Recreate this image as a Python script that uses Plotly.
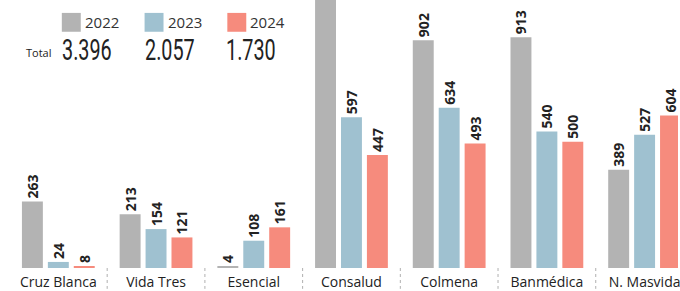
import plotly.graph_objects as go

categories = ["Cruz Blanca", "Vida Tres", "Esencial", "Consalud", "Colmena", "Banmédica", "N. Masvida"]
years = ["2022", "2023", "2024"]
v2022 = [263, 213, 4, 1150, 902, 913, 389]
v2023 = [24, 154, 108, 597, 634, 540, 527]
v2024 = [8, 121, 161, 447, 493, 500, 604]
totals = ["3.396", "2.057", "1.730"]
colors = ["#b3b3b3", "#9fc1d0", "#f68b7d"]

W, H = 680, 291
PLOT_H = 270
step = 98.0
c0 = 58.5
xr = [(0 - c0) / step, (W - c0) / step]
bw = 21 / step
offs = [-26 / step, 0, 26 / step]

fig = go.Figure()
idx = list(range(len(categories)))
for yr, vals, col, off in zip(years, [v2022, v2023, v2024], colors, offs):
    fig.add_trace(go.Bar(
        x=idx, y=vals, name=yr, marker_color=col, marker_line_width=0,
        width=bw, offset=off - bw / 2,
        text=[str(v) for v in vals], textposition="outside", textangle=-90,
        constraintext="none", cliponaxis=True,
        textfont=dict(family="Open Sans", size=14, color="#222", weight=700),
        showlegend=False, hoverinfo="skip",
    ))

shapes = []
for i in range(len(categories) - 1):
    shapes.append(dict(type="line", xref="x", yref="paper", x0=i + 0.5, x1=i + 0.5,
                       y0=0, y1=-21 / PLOT_H, line=dict(color="#b0b0b0", width=1, dash="dot")))

# custom legend
leg_x = [62, 145, 228]
tot_x = [60, 143, 225]
annotations = []
for yr, col, lx, tx, tot in zip(years, colors, leg_x, tot_x, totals):
    shapes.append(dict(type="rect", xref="paper", yref="paper",
                       x0=lx / W, x1=(lx + 19) / W, y0=1 - 32 / PLOT_H, y1=1 - 13 / PLOT_H,
                       fillcolor=col, line=dict(width=0)))
    annotations.append(dict(xref="paper", yref="paper", x=(lx + 21) / W, y=1 - 22.5 / PLOT_H,
                            text=yr, showarrow=False, xanchor="left", yanchor="middle",
                            font=dict(family="Open Sans", size=15, color="#333")))
    annotations.append(dict(xref="paper", yref="paper", x=tx / W, y=1 - 50 / PLOT_H,
                            text=tot, showarrow=False, xanchor="left", yanchor="middle",
                            font=dict(family="Roboto", size=30, color="#222")))
annotations.append(dict(xref="paper", yref="paper", x=24 / W, y=1 - 53 / PLOT_H,
                        text="Total", showarrow=False, xanchor="left", yanchor="middle",
                        font=dict(family="Open Sans", size=11, color="#222")))

fig.update_layout(
    width=W, height=H,
    margin=dict(l=0, r=0, t=0, b=H - PLOT_H, pad=0),
    paper_bgcolor="white", plot_bgcolor="white",
    barmode="overlay",
    xaxis=dict(range=xr, tickvals=idx, ticktext=categories, showgrid=False, zeroline=False,
               showline=False, ticks="", tickfont=dict(family="Open Sans", size=14, color="#222"),
               ticklabelstandoff=4, ticklabeloverflow="allow"),
    yaxis=dict(range=[0, PLOT_H / 0.2545], visible=False, showgrid=False, zeroline=False),
    shapes=shapes, annotations=annotations,
)

post = """
document.body.style.margin='0';
var gd=document.getElementById('{plot_id}');
function fix(){
  gd.querySelectorAll('.annotation-text').forEach(function(t){
    if(/^\\d\\.\\d{3}$/.test(t.textContent)){
      t.style.transformBox='fill-box';
      t.style.transformOrigin='left center';
      t.style.transform='scaleX(0.66)';
    }
  });
}
fix();
if(gd.on){gd.on('plotly_afterplot', fix);}
"""

fig.write_html("out.html", post_script=post, config={"displayModeBar": False})
